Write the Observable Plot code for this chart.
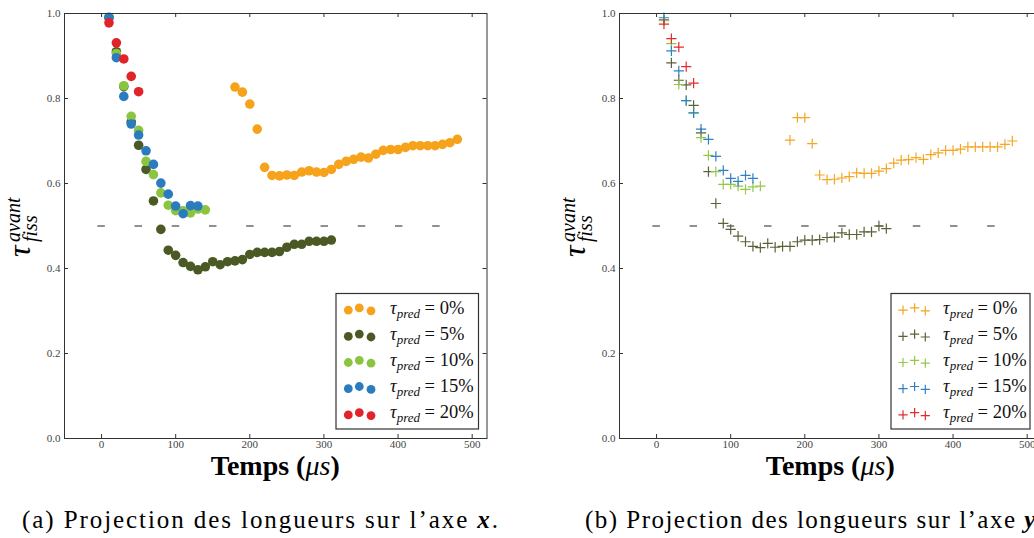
<!DOCTYPE html>
<html><head><meta charset="utf-8">
<script src="https://cdn.jsdelivr.net/npm/d3@7"></script>
<script src="https://cdn.jsdelivr.net/npm/@observablehq/plot@0.6"></script>
<style>
html,body{margin:0;padding:0;background:#fff;}
#wrap{position:relative;width:1034px;height:538px;overflow:hidden;background:#fff;}
.panel{position:absolute;top:0;}
</style></head>
<body><div id="wrap"></div>
<script>
// ---- data ----
const seriesLabels = ["0%", "5%", "10%", "15%", "20%"];
const dotColors  = ["#F7A21B", "#4B5A24", "#8BC53F", "#2B7BBF", "#E2232A"];
const plusColors = ["#F5A623", "#5A6338", "#94C84A", "#2F80C5", "#E32A2A"];
const xTicks = [0, 100, 200, 300, 400, 500];
const yTicks = [0.0, 0.2, 0.4, 0.6, 0.8, 1.0];
const xDomain = [-50, 520];
const yDomain = [0, 1];
const refLevel = 0.5, refFrom = -5, refTo = 457;

const times0  = [180,190,200,210,220,230,240,250,260,270,280,290,300,310,320,330,340,350,360,370,380,390,400,410,420,430,440,450,460,470,480];
const times5  = [10,20,30,40,50,60,70,80,90,100,110,120,130,140,150,160,170,180,190,200,210,220,230,240,250,260,270,280,290,300,310];
const times10 = [10,20,30,40,50,60,70,80,90,100,110,120,130,140];
const times15 = [10,20,30,40,50,60,70,80,90,100,110,120,130];
const times20 = [10,20,30,40,50];

// (a) projection sur l'axe x
const projX0  = [0.827,0.815,0.787,0.728,0.638,0.619,0.618,0.620,0.619,0.627,0.630,0.627,0.626,0.633,0.645,0.652,0.657,0.662,0.660,0.669,0.678,0.680,0.680,0.685,0.689,0.689,0.689,0.689,0.692,0.696,0.704];
const projX5  = [0.990,0.910,0.828,0.745,0.690,0.633,0.559,0.492,0.443,0.431,0.414,0.405,0.397,0.404,0.416,0.409,0.416,0.418,0.421,0.433,0.438,0.438,0.438,0.440,0.450,0.457,0.457,0.464,0.464,0.464,0.467];
const projX10 = [0.990,0.906,0.830,0.758,0.725,0.652,0.621,0.578,0.549,0.536,0.536,0.531,0.540,0.538];
const projX15 = [0.991,0.896,0.805,0.740,0.714,0.677,0.645,0.601,0.575,0.547,0.529,0.548,0.547];
const projX20 = [0.978,0.931,0.893,0.852,0.816];

// (b) projection sur l'axe y
const projY0  = [0.702,0.755,0.755,0.694,0.620,0.609,0.610,0.613,0.616,0.625,0.624,0.624,0.629,0.635,0.648,0.655,0.656,0.661,0.657,0.668,0.672,0.678,0.678,0.681,0.686,0.686,0.686,0.686,0.686,0.692,0.700];
const projY5  = [0.985,0.884,0.843,0.832,0.784,0.719,0.628,0.553,0.506,0.492,0.476,0.463,0.452,0.449,0.459,0.450,0.452,0.452,0.463,0.467,0.467,0.468,0.473,0.474,0.484,0.480,0.480,0.486,0.486,0.500,0.494];
const projY10 = [0.983,0.929,0.833,0.795,0.766,0.708,0.666,0.628,0.598,0.598,0.594,0.586,0.592,0.594];
const projY15 = [0.990,0.912,0.865,0.795,0.766,0.728,0.704,0.664,0.631,0.612,0.605,0.619,0.612];
const projY20 = [0.975,0.941,0.921,0.875,0.836];

const timesAll = [times0, times5, times10, times15, times20];
const panelA = [projX0, projX5, projX10, projX15, projX20];
const panelB = [projY0, projY5, projY10, projY15, projY20];

// ---- layout ----
const FONT = "'Liberation Serif', 'DejaVu Serif', serif";
const W = 500, H = 538, MT = 13, FH = 425, FW = 422.5;

function makePanel(values, kind, ml, letter, axisLetter) {
  const series = values.map((vals, s) => timesAll[s].map((t, i) => ({t, v: vals[i], s})));
  const marks = [
    Plot.ruleY([refLevel], {x1: refFrom, x2: refTo, stroke: "#222", strokeWidth: 1.1, strokeDasharray: "7.5,29.7"})
  ];
  series.forEach((rows, s) => {
    if (kind === "dot") {
      marks.push(Plot.dot(rows, {x: "t", y: "v", fill: dotColors[s], r: 4.8}));
    } else {
      marks.push(Plot.dot(rows, {x: "t", y: "v", symbol: "plus", stroke: plusColors[s], r: 3.4, strokeWidth: 1.2}));
    }
  });
  marks.push(
    Plot.frame({stroke: "#333", strokeWidth: 1}),
    Plot.tickX(xTicks, {x: d => d, insetTop: FH - 4, stroke: "#333"}),
    Plot.tickX(xTicks, {x: d => d, insetBottom: FH - 4, stroke: "#333"}),
    Plot.tickY(yTicks, {y: d => d, insetRight: FW - 4, stroke: "#333"}),
    Plot.tickY(yTicks, {y: d => d, insetLeft: FW - 4, stroke: "#333"}),
    Plot.axisX({ticks: xTicks, tickSize: 0, tickPadding: 2, label: null, tickFormat: d => String(d)}),
    Plot.axisY({ticks: yTicks, tickSize: 0, tickPadding: 4, label: null, tickFormat: d3.format(".1f")})
  );
  const svg = Plot.plot({
    width: W, height: H,
    marginTop: MT, marginBottom: H - MT - FH, marginLeft: ml, marginRight: W - ml - FW,
    x: {domain: xDomain}, y: {domain: yDomain},
    style: {fontFamily: FONT, fontSize: "11px", color: "#444", background: "transparent", overflow: "visible"},
    marks
  });
  const root = d3.select(svg);
  const cx = ml + FW / 2;

  // y label
  const g = root.append("g").attr("transform", `translate(${ml - 30},257) rotate(-90)`)
    .attr("font-family", FONT).attr("font-style", "italic").attr("fill", "#000").attr("text-anchor", "start");
  g.append("text").attr("x", 0).attr("y", -4).attr("font-size", 32).text("τ");
  g.append("text").attr("x", 15).attr("y", -14).attr("font-size", 20).text("avant");
  g.append("text").attr("x", 15).attr("y", 3).attr("font-size", 20).text("fiss");

  // x label
  const xl = root.append("text").attr("x", cx).attr("y", 475).attr("text-anchor", "middle")
    .attr("font-family", FONT).attr("font-size", 28).attr("fill", "#000");
  xl.append("tspan").attr("font-weight", "bold").text("Temps (");
  xl.append("tspan").attr("font-style", "italic").text("μs");
  xl.append("tspan").attr("font-weight", "bold").text(")");

  // caption
  const cap = root.append("text").attr("x", letter === "a" ? 22 : 25).attr("y", 528).attr("text-anchor", "start")
    .attr("font-family", FONT).attr("font-size", 25).attr("fill", "#000")
    .attr("textLength", letter === "a" ? 476 : 458).attr("lengthAdjust", "spacing");
  cap.append("tspan").text(`(${letter}) Projection des longueurs sur l’axe `);
  cap.append("tspan").attr("font-weight", "bold").attr("font-style", "italic").text(axisLetter);
  cap.append("tspan").text(".");

  // legend
  const lx = kind === "dot" ? 336 : 331, ly = 293.5, lw = kind === "dot" ? 142.5 : 139, lh = 135.5;
  const lg = root.append("g").attr("text-anchor", "start");
  lg.append("rect").attr("x", lx).attr("y", ly).attr("width", lw).attr("height", lh)
    .attr("fill", "#fff").attr("stroke", "#333").attr("stroke-width", 1.2);
  const offs = [0.6, -1.6, 1.3];
  const mxs = kind === "dot" ? [12.3, 23.3, 35] : [12, 23.6, 34.3];
  seriesLabels.forEach((lab, i) => {
    const ry = ly + 16 + i * 26.2;
    mxs.forEach((mx, k) => {
      if (kind === "dot") {
        lg.append("circle").attr("cx", lx + mx).attr("cy", ry + offs[k]).attr("r", 4.4).attr("fill", dotColors[i]);
      } else {
        const px = lx + mx, py = ry + offs[k], h = 4.6;
        lg.append("path").attr("d", `M${px - h},${py}H${px + h}M${px},${py - h}V${py + h}`)
          .attr("stroke", plusColors[i]).attr("stroke-width", 1.2).attr("fill", "none");
      }
    });
    const t = lg.append("text").attr("x", lx + (kind === "dot" ? 54 : 52)).attr("y", ry + 4)
      .attr("font-family", FONT).attr("font-size", 18.5).attr("fill", "#111");
    t.append("tspan").attr("font-style", "italic").text("τ");
    t.append("tspan").attr("font-style", "italic").attr("font-size", 13).attr("dy", 4).text("pred");
    t.append("tspan").attr("dy", -4).text(" = " + lab);
  });
  return svg;
}

const wrap = document.getElementById("wrap");
const a = makePanel(panelA, "dot", 64, "a", "x");
a.setAttribute("class", "panel"); a.style.left = "0px";
wrap.appendChild(a);
const b = makePanel(panelB, "plus", 59, "b", "y");
b.setAttribute("class", "panel"); b.style.left = "560px";
wrap.appendChild(b);
</script>
</body></html>
